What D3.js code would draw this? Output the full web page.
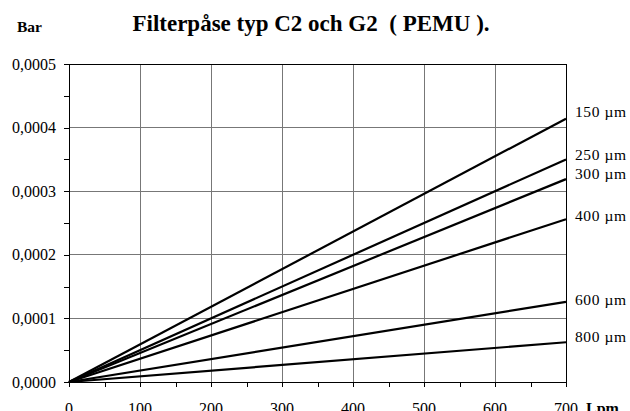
<!DOCTYPE html>
<html><head><meta charset="utf-8">
<script src="https://cdn.jsdelivr.net/npm/d3@7"></script>
<style>body{margin:0;background:#fff}svg{display:block}</style>
</head><body>
<svg id="c" width="630" height="411"></svg>
<script>
const flows = [0, 700];
const seriesNames = ["150 µm","250 µm","300 µm","400 µm","600 µm","800 µm"];
const seriesValues = [
  [0, 0.000414],
  [0, 0.000350],
  [0, 0.000319],
  [0, 0.000256],
  [0, 0.000126],
  [0, 0.0000625]
];
const labelValues = [0.000425, 0.000358, 0.000327, 0.000261, 0.000130, 0.000072];
const xTicks = [0,100,200,300,400,500,600,700];
const yTicks = [0,0.0001,0.0002,0.0003,0.0004,0.0005];
const yTickLabels = ["0,0000","0,0001","0,0002","0,0003","0,0004","0,0005"];

const svg = d3.select("#c");
const L=69, R=566, T=64, B=382;
const x = d3.scaleLinear().domain([0,700]).range([L,R]);
const y = d3.scaleLinear().domain([0,0.0005]).range([B,T]);
const font = "'Liberation Serif','Times New Roman',serif";

// grid
const g = svg.append("g");
g.selectAll(".vg").data(xTicks.filter(d=>d>0&&d<700)).join("line")
  .attr("x1",d=>x(d)).attr("x2",d=>x(d)).attr("y1",T).attr("y2",B)
  .attr("stroke","#777").attr("stroke-width",1).attr("shape-rendering","crispEdges");
g.selectAll(".hg").data(yTicks.filter(d=>d>0&&d<0.0005)).join("line")
  .attr("x1",L).attr("x2",R).attr("y1",d=>y(d)).attr("y2",d=>y(d))
  .attr("stroke","#777").attr("stroke-width",1).attr("shape-rendering","crispEdges");
g.append("line").attr("x1",L).attr("x2",R).attr("y1",T).attr("y2",T).attr("stroke","#000").attr("shape-rendering","crispEdges");
g.append("line").attr("x1",R).attr("x2",R).attr("y1",T).attr("y2",B).attr("stroke","#000").attr("shape-rendering","crispEdges");

// axes
const xAxis = d3.axisBottom(x).tickValues(d3.range(0,701,50)).tickSize(5).tickFormat("");
const xa = svg.append("g").attr("transform",`translate(0,${B})`).call(xAxis);
const yAxis = d3.axisLeft(y).tickValues(d3.range(0,0.00051,0.00005)).tickSize(5).tickFormat("");
const ya = svg.append("g").attr("transform",`translate(${L},0)`).call(yAxis);
[xa,ya].forEach(a=>{a.select(".domain").attr("stroke","#000").attr("shape-rendering","crispEdges");
  a.selectAll(".tick line").attr("stroke","#000").attr("shape-rendering","crispEdges");});

// tick labels
svg.selectAll(".xl").data(xTicks).join("text")
  .attr("x",d=>x(d)).attr("y",413.5).attr("text-anchor","middle")
  .attr("font-family",font).attr("font-size",16).text(d=>d);
svg.selectAll(".yl").data(yTicks).join("text")
  .attr("x",56).attr("y",d=>y(d)).attr("dy","0.35em").attr("text-anchor","end")
  .attr("font-family",font).attr("font-size",16).text((d,i)=>yTickLabels[i]);

// lines
const line = d3.line().x((d,i)=>x(flows[i])).y(d=>y(d));
svg.selectAll(".s").data(seriesValues).join("path")
  .attr("d",line).attr("fill","none").attr("stroke","#000").attr("stroke-width",2.2);

// series labels
svg.selectAll(".sl").data(seriesNames).join("text")
  .attr("x",575).attr("y",(d,i)=>y(labelValues[i])).attr("dy","0.35em")
  .attr("font-family",font).attr("font-size",15.5).attr("letter-spacing",0.6).text(d=>d);

// title etc
svg.append("text").attr("x",311).attr("y",31).attr("text-anchor","middle")
  .attr("font-family",font).attr("font-weight","bold").attr("font-size",23)
  .attr("xml:space","preserve").style("white-space","pre")
  .text("Filterpåse typ C2 och G2  ( PEMU ).");
svg.append("text").attr("x",17).attr("y",32).attr("font-family",font).attr("font-weight","bold")
  .attr("font-size",15.5).text("Bar");
svg.append("text").attr("x",586).attr("y",413.5).attr("font-family",font).attr("font-weight","bold")
  .attr("font-size",16).text("Lpm");
</script>
</body></html>
